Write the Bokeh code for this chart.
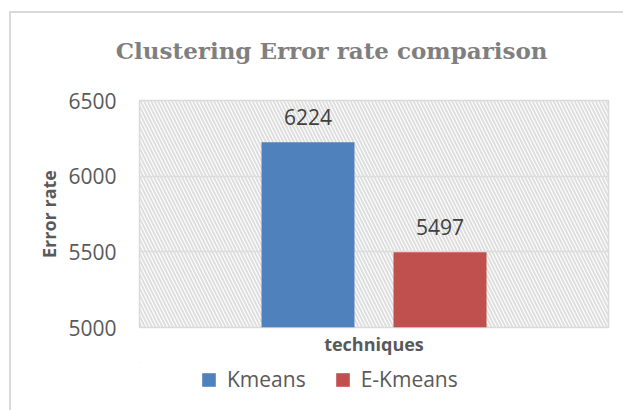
from bokeh.plotting import figure
from bokeh.layouts import column
from bokeh.models import (Range1d, FixedTicker, BoxAnnotation, Label, Legend, LegendItem)
from bokeh.embed import file_html
from bokeh.resources import INLINE

# ---- data ----
series = ["Kmeans", "E-Kmeans"]
values = [6224, 5497]
colors = ["#4F81BD", "#C0504D"]
y_ticks = [5000, 5500, 6000, 6500]
title_text = "Clustering Error rate comparison"
x_title = "techniques"
y_title = "Error rate"

# ---- layout (page pixels) ----
FL, FR, FT, FB = 139, 608, 100, 327   # frame edges on page
W = 623
H1 = 362                               # main chart height
H2 = 410 - H1                          # legend strip height
YMIN, YMAX = y_ticks[0], y_ticks[-1]
BORDER = "linear-gradient(#d9d9d9, #d9d9d9)"

def px2x(px):
    return (px - FL) / (FR - FL)

p = figure(width=W, height=H1, output_backend="svg", toolbar_location=None,
           x_range=Range1d(0, 1), y_range=Range1d(YMIN, YMAX),
           min_border_left=FL, min_border_right=W - FR,
           min_border_top=FT, min_border_bottom=H1 - FB)
# outer chart border drawn as CSS background behind a transparent canvas border
p.styles = {
    "background-color": "white",
    "background-image": BORDER + ", " + BORDER,
    "background-size": "2px 100%, 100% 2px",
    "background-position": "9px 11px, 9px 11px",
    "background-repeat": "no-repeat",
}
p.border_fill_alpha = 0
p.outline_line_color = "#d9d9d9"
p.outline_line_width = 1.5
p.background_fill_color = "white"

# hatched plot area
p.add_layout(BoxAnnotation(fill_alpha=0, line_alpha=0, hatch_pattern="\\",
                           hatch_color="#dedede", hatch_scale=7, hatch_weight=2,
                           level="underlay"))

# title
p.title.text = title_text
p.title.align = "right"
p.title.offset = FR - 547
p.title.vertical_align = "top"
p.title.standoff = 69
p.title.text_font = "DejaVu Serif"
p.title.text_font_style = "bold"
p.title.text_font_size = "23px"
p.title.text_color = "#7F7F7F"

# axes
p.xgrid.visible = False
p.ygrid.grid_line_color = "#d9d9d9"
p.ygrid.grid_line_width = 1.5
p.yaxis.ticker = FixedTicker(ticks=y_ticks)
p.xaxis.ticker = FixedTicker(ticks=[])
for ax in (p.xaxis, p.yaxis):
    ax.axis_line_color = None
    ax.major_tick_line_color = None
    ax.minor_tick_line_color = None
    ax.major_tick_out = 0
    ax.major_tick_in = 0
p.yaxis.major_label_text_font = "Open Sans"
p.yaxis.major_label_text_font_size = "21px"
p.yaxis.major_label_text_color = "#595959"
p.yaxis.major_label_standoff = 23
p.yaxis.axis_label = y_title
p.yaxis.axis_label_text_font = "Open Sans"
p.yaxis.axis_label_text_font_style = "bold"
p.yaxis.axis_label_text_font_size = "18px"
p.yaxis.axis_label_text_color = "#595959"
p.yaxis.axis_label_standoff = 4
p.xaxis.axis_label = x_title
p.xaxis.axis_label_text_font = "Open Sans"
p.xaxis.axis_label_text_font_style = "bold"
p.xaxis.axis_label_text_font_size = "18px"
p.xaxis.axis_label_text_color = "#595959"
p.xaxis.axis_label_standoff = 4

# bars
bar_centers = [px2x(307.5), px2x(439.5)]
bar_w = px2x(FL + 93)
for s, v, c, xc in zip(series, values, colors, bar_centers):
    p.vbar(x=[xc], top=[v], bottom=YMIN, width=bar_w, fill_color=c, line_color=None)
    p.add_layout(Label(x=xc, y=v, text=str(v), y_offset=25,
                       text_align="center", text_baseline="alphabetic",
                       text_font="Open Sans", text_font_size="21px", text_color="#404040"))

# legend strip under the chart (its frame is aligned with the chart frame)
q = figure(width=W, height=H2, output_backend="svg", toolbar_location=None,
           x_range=Range1d(10, 11), y_range=Range1d(0, 1),
           x_axis_type=None, y_axis_type=None,
           min_border_left=FL, min_border_right=W - FR,
           min_border_top=0, min_border_bottom=0)
q.styles = {
    "background-color": "white",
    "background-image": BORDER,
    "background-size": "2px 100%",
    "background-position": "9px 0px",
    "background-repeat": "no-repeat",
}
q.border_fill_alpha = 0
q.background_fill_alpha = 0
q.outline_line_color = None
q.grid.visible = False
items = []
for s, v, c, xc in zip(series, values, colors, bar_centers):
    # same bars, lying outside this strip's view; used only as legend keys
    r = q.vbar(x=[xc], top=[v], bottom=YMIN, width=bar_w, fill_color=c, line_color=None)
    items.append(LegendItem(label=s, renderers=[r]))
legend = Legend(items=items, orientation="horizontal",
                location=(200 - FL, H2 - (371 - H1) - 22),
                glyph_width=17, glyph_height=17, label_standoff=10, spacing=28,
                padding=0, margin=0, border_line_color=None, background_fill_alpha=0,
                label_text_font="Open Sans", label_text_font_size="21px",
                label_text_color="#595959", label_height=22)
q.add_layout(legend, "center")

layout = column(p, q, spacing=0)
open("out.html", "w").write(file_html(layout, INLINE))
